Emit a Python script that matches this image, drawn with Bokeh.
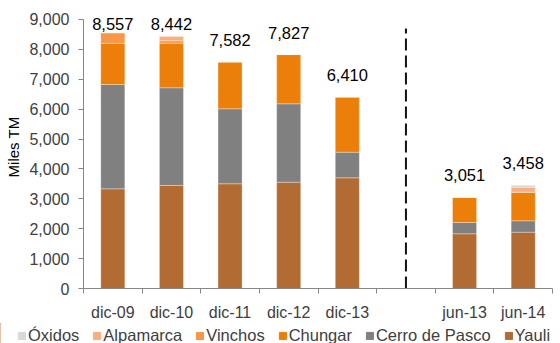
from bokeh.plotting import figure
from bokeh.layouts import column
from bokeh.models import (ColumnDataSource, Range1d, FixedTicker, NumeralTickFormatter,
                          Legend, LegendItem)
from bokeh.core.properties import value
from bokeh.embed import file_html
from bokeh.resources import INLINE

# Period slots; the empty string is a spacer between annual and half-year data
categories = ["dic-09", "dic-10", "dic-11", "dic-12", "dic-13", "", "jun-13", "jun-14"]
periods = ["dic-09", "dic-10", "dic-11", "dic-12", "dic-13", "jun-13", "jun-14"]

# Production by unit (miles TM), stacked bottom to top
yauli = [3335, 3446, 3503, 3556, 3703, 1830, 1884]
cerro_de_pasco = [3490, 3269, 2509, 2623, 857, 378, 381]
chungar = [1380, 1492, 1570, 1648, 1850, 843, 957]
vinchos = [352, 80, 0, 0, 0, 0, 0]
alpamarca = [0, 155, 0, 0, 0, 0, 167]
oxidos = [0, 0, 0, 0, 0, 0, 69]

series_keys = ["yauli", "cerro", "chungar", "vinchos", "alpamarca", "oxidos"]
series_names = ["Yauli", "Cerro de Pasco", "Chungar", "Vinchos", "Alpamarca", "Óxidos"]
series_values = [yauli, cerro_de_pasco, chungar, vinchos, alpamarca, oxidos]
series_colors = ["#B26B33", "#808080", "#EC7E0A", "#F79646", "#F9AE80", "#D9D9D9"]

y_ticks = [0, 1000, 2000, 3000, 4000, 5000, 6000, 7000, 8000, 9000]

FONT = "Liberation Sans"
TEXT_GRAY = "#404040"
AXIS_GRAY = "#868686"

x_pos = [categories.index(c) + 0.5 for c in periods]
totals = [sum(v) for v in zip(*series_values)]
# labels sit a fixed gap above each stack, but never above the top of the chart area
label_gap = 535
label_ceiling = 8648
label_y = [min(t + label_gap, label_ceiling) for t in totals]

data = {"x": x_pos, "total": totals, "label": [f"{t:,}" for t in totals], "label_y": label_y}
for k, v in zip(series_keys, series_values):
    data[k] = v
source = ColumnDataSource(data)

p = figure(width=560, height=323, output_backend="svg", toolbar_location=None,
           x_range=Range1d(0, len(categories)), y_range=Range1d(0, 9468),
           min_border_left=83, min_border_right=8, min_border_top=5, min_border_bottom=35)
p.frame_align = False
p.outline_line_color = None
p.xgrid.visible = False
p.ygrid.visible = False
p.background_fill_color = "white"
p.border_fill_color = "white"

renderers = p.vbar_stack(series_keys, x="x", width=0.41, source=source,
                         color=series_colors, line_color="white", line_width=0.6,
                         line_alpha=0.5)

# Spacer separator between annual and half-year periods
sep = categories.index("") + 0.5
p.segment(x0=[sep], y0=[0], x1=[sep], y1=[8700], line_color="#111111",
          line_width=2, line_dash="12 5")

# Total value labels
p.text(x="x", y="label_y", text="label", source=source, text_align="center",
       text_baseline="bottom", text_font=value(FONT),
       text_font_size="16.5px", text_color="black")

# Y axis
p.yaxis.ticker = FixedTicker(ticks=y_ticks)
p.yaxis.formatter = NumeralTickFormatter(format="0,0")
p.yaxis.bounds = (0, 9000)
p.yaxis.axis_label = "Miles TM"
p.yaxis.axis_label_text_font = FONT
p.yaxis.axis_label_text_font_style = "normal"
p.yaxis.axis_label_text_font_size = "15px"
p.yaxis.axis_label_text_color = "black"
p.yaxis.axis_label_standoff = 4
p.yaxis.major_label_text_font = FONT
p.yaxis.major_label_text_font_size = "16px"
p.yaxis.major_label_text_color = TEXT_GRAY
p.yaxis.major_label_standoff = 9
p.yaxis.major_tick_out = 5
p.yaxis.major_tick_in = 0
p.yaxis.minor_tick_line_color = None
p.yaxis.axis_line_color = AXIS_GRAY
p.yaxis.major_tick_line_color = AXIS_GRAY

# X axis: labels at slot centres, ticks at slot boundaries
centers = [i + 0.5 for i in range(len(categories))]
p.xaxis.ticker = FixedTicker(ticks=centers, minor_ticks=list(range(len(categories) + 1)))
p.xaxis.major_label_overrides = {i + 0.5: c for i, c in enumerate(categories)}
p.xaxis.bounds = (0, len(categories))
p.xaxis.major_tick_line_color = None
p.xaxis.major_tick_out = 0
p.xaxis.major_tick_in = 0
p.xaxis.minor_tick_out = 5
p.xaxis.minor_tick_in = 0
p.xaxis.minor_tick_line_color = AXIS_GRAY
p.xaxis.axis_line_color = AXIS_GRAY
p.xaxis.major_label_text_font = FONT
p.xaxis.major_label_text_font_size = "16px"
p.xaxis.major_label_text_color = TEXT_GRAY
p.xaxis.major_label_standoff = 10

# Legend strip under the chart, top of stack first.
# Its swatch glyphs sit outside the strip's visible range, so only the legend shows.
lg = figure(width=560, height=22, output_backend="svg", toolbar_location=None,
            x_axis_type=None, y_axis_type=None,
            x_range=Range1d(0, 1), y_range=Range1d(0, 1),
            min_border_left=0, min_border_right=0, min_border_top=0, min_border_bottom=0)
lg.frame_align = False
lg.outline_line_color = None
lg.background_fill_color = "white"
lg.border_fill_color = "white"
swatches = [lg.vbar(x=[-5], top=[1], width=0.5, color=c) for c in series_colors]
items = [LegendItem(label=name, renderers=[r])
         for name, r in zip(series_names, swatches)][::-1]
legend = Legend(items=items, orientation="horizontal", location=(17, 0),
                glyph_width=9, glyph_height=9, label_standoff=2, spacing=13,
                padding=0, margin=0, border_line_alpha=0, background_fill_alpha=0,
                label_text_font=FONT, label_text_font_size="16.5px",
                label_text_color=TEXT_GRAY, label_height=18)
lg.add_layout(legend, "center")

layout = column(p, lg, spacing=0)
open("out.html", "w").write(file_html(layout, INLINE))
